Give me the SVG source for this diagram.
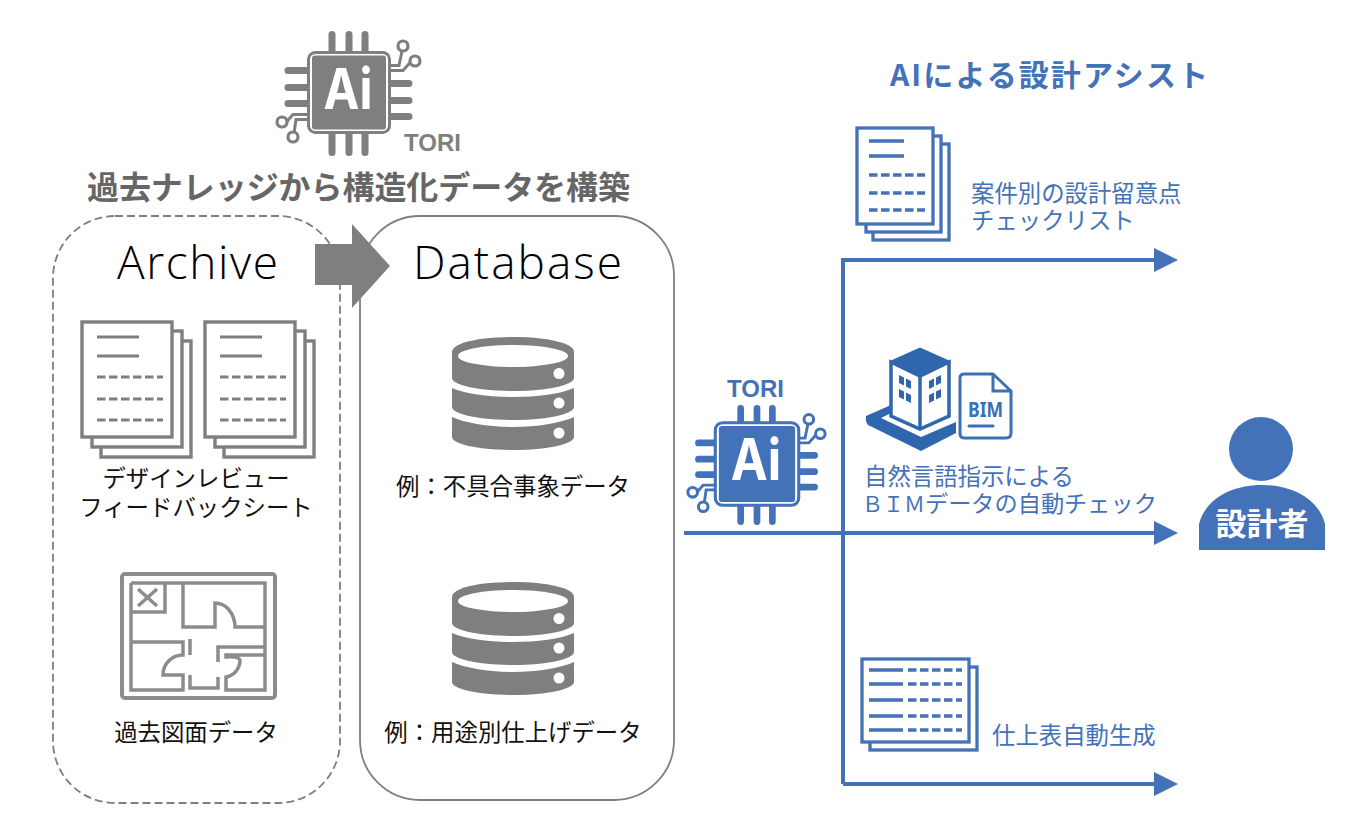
<svg xmlns="http://www.w3.org/2000/svg" xmlns:xlink="http://www.w3.org/1999/xlink" width="1361" height="830" viewBox="0 0 1361 830">
<style>
text{font-family:"Noto Sans CJK JP","Noto Sans",sans-serif}
.lat{font-family:"Open Sans","Noto Sans","Noto Sans CJK JP",sans-serif;font-weight:300}
.tori{font-family:"Liberation Sans",Arial,sans-serif;font-weight:700;font-size:24px}
.gb{fill:#666;font-weight:700}
.bb{fill:#4472B8;font-weight:700}
.bt{fill:#4472B8;font-size:23.400px}
.bk{fill:#111;font-size:23.400px}
.gs{fill:none;stroke:#7f7f7f;stroke-width:3.400}
.bs{fill:none;stroke:#4472B8;stroke-width:3.300}
.dash{stroke-dasharray:8.500 3.500}
.conn{fill:none;stroke:#4472B8;stroke-width:4}
.pin{stroke-width:7;stroke-linecap:round;fill:none}
.page{fill:#fff}
</style>
<defs>
<marker id="ah" markerUnits="userSpaceOnUse" markerWidth="26" markerHeight="26" refX="1" refY="13" orient="auto"><path d="M1 1L25 13L1 25Z" fill="#4472B8"/></marker>
<g id="chip-pins">
<path class="pin" d="M-17-58V-42M0-58V-42M16-58V-42M-17 42V60M0 42V60M16 42V60M-61-22H-42M-61-5H-42M-61 11H-42M42-9H60M42 8H60M42 24H60"/>
<path fill="none" stroke-width="3" d="M42-27H50L54-46M42-22H54L62-31M-42 22H-56L-63 30M-42 27H-53L-55 41"/>
<circle cx="54" cy="-46.500" r="5" fill="#fff" stroke-width="3.200"/><circle cx="66" cy="-31.500" r="5" fill="#fff" stroke-width="3.200"/>
<circle cx="-67" cy="29.500" r="5" fill="#fff" stroke-width="3.200"/><circle cx="-56" cy="44.500" r="5" fill="#fff" stroke-width="3.200"/>
</g>
<g id="chip-core">
<rect x="-40.500" y="-40" width="81" height="80" rx="7" fill="#fff" stroke-width="3"/>
<rect x="-37" y="-37" width="74" height="74" rx="3" stroke="none"/>
<text x="-1" y="16" text-anchor="middle" font-size="56" font-weight="700" fill="#fff" stroke="none" textLength="49" lengthAdjust="spacingAndGlyphs" style="font-family:Inter,'Noto Sans',sans-serif">Ai</text>
</g>
<g id="db">
<path d="M452 352C452 343 479 337 513 337S574 343 574 352V378C574 385 547 391 513 391S452 385 452 378Z"/>
<ellipse cx="513" cy="356" rx="55" ry="11" fill="#fff"/>
<path d="M452 388C465 394 489 397 513 397S561 394 574 388V407C574 414 547 420 513 420S452 414 452 407Z"/>
<path d="M452 417C465 423 489 427 513 427S561 423 574 417V437C574 444 547 450 513 450S452 444 452 437Z"/>
<circle cx="559" cy="373.500" r="5.500" fill="#fff"/><circle cx="559" cy="403" r="5.500" fill="#fff"/><circle cx="559" cy="433" r="5.500" fill="#fff"/>
</g>
<g id="doc3" class="gs">
<rect class="page" x="101" y="341" width="90" height="116"/>
<rect class="page" x="92" y="331" width="90" height="116"/>
<rect class="page" x="82" y="322" width="90" height="115"/>
<path d="M97 337H139M97 356H139" stroke-width="3"/>
<path class="dash" d="M97 377H163M97 399H163M97 420H163" stroke-width="3"/>
</g>
</defs>

<g id="connectors">
<path class="conn" d="M843 784V260H1154" marker-end="url(#ah)"/>
<path class="conn" d="M684 533H1154" marker-end="url(#ah)"/>
<path class="conn" d="M843 784H1154" marker-end="url(#ah)"/>
</g>

<g id="archive">
<rect x="53" y="216" width="287" height="587" rx="62" fill="#fff" stroke="#7f7f7f" stroke-width="1.800" stroke-dasharray="8 4"/>
<text class="lat" x="117" y="279" font-size="46" textLength="161" fill="#000">Archive</text>
</g>
<g id="database">
<rect x="360" y="216" width="314" height="584" rx="60" fill="#fff" stroke="#7f7f7f" stroke-width="1.800"/>
<text class="lat" x="413" y="279" font-size="46" textLength="209" fill="#000">Database</text>
</g>
<g id="flow-arrow"><path d="M315 244H352V224L390 266L352 308V285H315Z" fill="#7f7f7f"/></g>

<g id="tori-gray">
<use xlink:href="#chip-pins" href="#chip-pins" transform="translate(349 92.500)" fill="#7f7f7f" stroke="#7f7f7f"/>
<use xlink:href="#chip-core" href="#chip-core" transform="translate(349 92.500)" fill="#7f7f7f" stroke="#7f7f7f"/>
<text class="tori" x="404" y="151" fill="#7f7f7f">TORI</text>
</g>
<g id="title-left"><text class="gb" x="87" y="199" font-size="32" textLength="543">過去ナレッジから構造化データを構築</text></g>

<g id="docs-review">
<use xlink:href="#doc3" href="#doc3"/>
<use xlink:href="#doc3" href="#doc3" x="123"/>
<text class="bk" text-anchor="middle"><tspan x="196" y="487">デザインレビュー</tspan><tspan x="196" y="516">フィードバックシート</tspan></text>
</g>

<g id="floorplan">
<rect x="122" y="574" width="153" height="124" rx="3" fill="#fff" stroke="#8c8c8c" stroke-width="4"/>
<path fill="none" stroke="#8c8c8c" stroke-width="3.500" d="M131 583H265V690H226V677A17 17 0 0 0 240 660Q238 656 226 657V655H265M131 583V690H183V675H163A20 20 0 0 1 183 655V642H131M165 583V612H131M183 583V627H215V603A20 24 0 0 1 235 627H265M190 639V655M190 675V688H218V677M218 662V647H265"/>
<path fill="none" stroke="#8c8c8c" stroke-width="3.500" d="M138 589L157 606M157 589L138 606"/>
<text class="bk" x="196" y="741" text-anchor="middle">過去図面データ</text>
</g>

<g id="db1">
<use xlink:href="#db" href="#db" fill="#7f7f7f"/>
<text class="bk" x="513" y="495" text-anchor="middle">例：不具合事象データ</text>
</g>
<g id="db2">
<use xlink:href="#db" href="#db" fill="#7f7f7f" y="245"/>
<text class="bk" x="513" y="741" text-anchor="middle">例：用途別仕上げデータ</text>
</g>

<g id="tori-blue">
<text class="tori" x="727" y="397" fill="#4472B8">TORI</text>
<use xlink:href="#chip-pins" href="#chip-pins" transform="translate(757 464) scale(.96)" fill="#4472B8" stroke="#4472B8"/>
<use xlink:href="#chip-core" href="#chip-core" transform="translate(757 464) scale(1.030)" fill="#4472B8" stroke="#4472B8"/>
</g>

<g id="title-right"><text class="bb" x="890" y="86" font-size="30" textLength="318">AIによる設計アシスト</text></g>

<g id="doc-checklist">
<rect class="bs page" x="873" y="144" width="76" height="96"/>
<rect class="bs page" x="866" y="136" width="75" height="96"/>
<rect class="bs page" x="857" y="128" width="76" height="96"/>
<path class="bs" d="M869 141H904M869 156H904"/>
<path class="bs dash" d="M869 175H925M869 193H925M869 210H925"/>
<text class="bt"><tspan x="971" y="202">案件別の設計留意点</tspan><tspan x="971" y="229">チェックリスト</tspan></text>
</g>

<g id="bim">
<path fill="#2F66AE" d="M866 416L891 405V413L881 418L921 437L956 422V433L921 451L868 425Q865 421 866 416Z"/>
<path fill="#fff" stroke="#2F66AE" stroke-width="3.500" d="M891 362V416L920 429L949 416V362L920 376Z"/>
<path fill="#2F66AE" stroke="#2F66AE" stroke-width="3" stroke-linejoin="round" d="M891 362L920 349L949 362L920 376Z"/>
<path stroke="#2F66AE" stroke-width="3.500" d="M920 376V429"/>
<path fill="#2F66AE" d="M899 375l5 2.500v8l-5-2.500zM906 378.500l5 2.500v8l-5-2.500zM899 389l5 2.500v8l-5-2.500zM906 392.500l5 2.500v8l-5-2.500zM941 375l-5 2.500v8l5-2.500zM934 378.500l-5 2.500v8l5-2.500zM941 389l-5 2.500v8l5-2.500zM934 392.500l-5 2.500v8l5-2.500z"/>
<path fill="#fff" stroke="#3B6FB8" stroke-width="3" stroke-linejoin="round" d="M964 374H993L1011 391V433Q1011 438 1006 438H964Q960 438 960 433V378Q960 374 964 374Z"/>
<path fill="none" stroke="#3B6FB8" stroke-width="3" d="M993 374V391H1011"/>
<text x="968" y="417" font-size="22" font-weight="700" fill="#3B6FB8" textLength="35" lengthAdjust="spacingAndGlyphs" style="font-family:'Noto Sans',sans-serif">BIM</text>
<path stroke="#3B6FB8" stroke-width="3" stroke-linecap="round" d="M969 426H993"/>
<text class="bt"><tspan x="864" y="485">自然言語指示による</tspan><tspan x="862" y="512" font-size="21">ＢＩＭ</tspan><tspan font-size="23.200">データの自動チェック</tspan></text>
</g>

<g id="doc-table">
<rect class="bs page" x="870" y="667" width="107" height="83"/>
<rect class="bs page" x="862" y="659" width="107" height="83"/>
<path class="bs" d="M869 670H903M869 684H903M869 700H903M869 716H903M869 730H903"/>
<path class="bs dash" d="M908 670H962M908 684H962M908 700H962M908 716H962M908 730H962"/>
<text class="bt" x="992" y="744">仕上表自動生成</text>
</g>

<g id="designer">
<circle cx="1261" cy="449" r="32" fill="#4472B8"/>
<path d="M1199 550V524C1205 500 1230 485 1262 485S1319 500 1325 524V550Z" fill="#4472B8"/>
<text x="1262" y="535" text-anchor="middle" font-size="31" font-weight="700" fill="#fff">設計者</text>
</g>
</svg>
